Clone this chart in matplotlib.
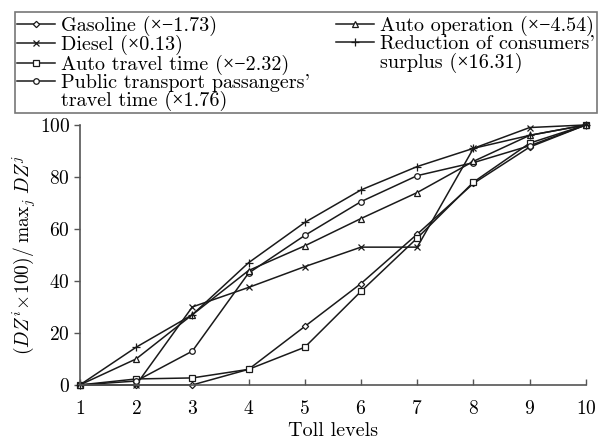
import numpy as np
import matplotlib
matplotlib.use("Agg")
import matplotlib.pyplot as plt
from matplotlib.lines import Line2D
from matplotlib.patches import Rectangle

# --- data ---
toll_levels = [1, 2, 3, 4, 5, 6, 7, 8, 9, 10]

gasoline = [0, 0, 0, 6, 22.5, 39, 58, 77.5, 91.5, 100]
diesel = [0, 0, 30, 37.5, 45.5, 53, 53, 91, 99, 100]
auto_travel = [0, 2.3, 2.7, 6, 14.5, 36, 56.5, 78, 93, 100]
public_transport = [0, 1.5, 13, 43, 57.5, 70.5, 80.5, 85.5, 92, 100]
auto_operation = [0, 10, 27, 44, 53.5, 64, 74, 86, 96, 100]
consumer_surplus = [0, 14.5, 27, 47, 62.5, 75, 84, 91, 96, 100]

labels = [
    "Gasoline (×−1.73)",
    "Diesel (×0.13)",
    "Auto travel time (×−2.32)",
    "Public transport passangers'",
    "travel time (×1.76)",
    "Auto operation (×−4.54)",
    "Reduction of consumers'",
    "surplus (×16.31)",
]

plt.rcParams["font.family"] = ["cmr10", "Liberation Serif", "DejaVu Serif"]
plt.rcParams["mathtext.fontset"] = "cm"
plt.rcParams["axes.formatter.use_mathtext"] = True

fig = plt.figure(figsize=(6.05, 4.44), dpi=100)
ax = fig.add_axes([0.132, 0.133, 0.8364, 0.5856])

lc = "#1a1a1a"
common = dict(color=lc, lw=1.1, mfc="white", mec=lc, mew=0.9, clip_on=False)

series = [
    (gasoline, "D", 3.2),
    (diesel, "x", 5.0),
    (auto_travel, "s", 3.8),
    (public_transport, "o", 4.0),
    (auto_operation, "^", 4.2),
    (consumer_surplus, "+", 6.0),
]
handles = []
for vals, mk, ms in series:
    (ln,) = ax.plot(toll_levels, vals, marker=mk, ms=ms, **common)
    handles.append(ln)

ax.set_xlim(1, 10)
ax.set_ylim(0, 100)
ax.set_xticks(toll_levels)
ax.set_yticks([0, 20, 40, 60, 80, 100])
ax.spines["top"].set_visible(False)
ax.spines["right"].set_visible(False)
for s in ["left", "bottom"]:
    ax.spines[s].set_color("#555555")
    ax.spines[s].set_linewidth(1.2)
ax.tick_params(axis="x", direction="in", length=4, width=1, color="#555555",
               labelsize=14, pad=11)
ax.tick_params(axis="y", direction="out", length=4, width=1, color="#555555",
               labelsize=14, pad=3)

ax.set_xlabel("Toll levels", fontsize=14.5, labelpad=3)
ax.set_ylabel(r"$(DZ^i\!\times\!100)/\;\mathrm{max}_j\;DZ^j$", fontsize=14)
ax.yaxis.set_label_coords(-0.083, 0.5)

# legend: 4 entries left, 2 right, wrapped labels as extra rows
blank = Line2D([], [], color="none")
leg_handles = [handles[0], handles[1], handles[2], handles[3], blank,
               handles[4], handles[5], blank, blank, blank]
leg_labels = labels[:5] + labels[5:] + ["", ""]
leg = fig.legend(leg_handles, leg_labels, ncol=2, loc="upper left",
                 bbox_to_anchor=(15 / 605, 1 - 113 / 444,
                                 (597 - 15) / 605, 99 / 444),
                 mode="expand", borderaxespad=0, fontsize=14.5, frameon=False,
                 handlelength=1.9, handletextpad=0.3, labelspacing=-0.04,
                 borderpad=0.1, columnspacing=1.0, numpoints=1)

# legend frame box
fig.patches.append(Rectangle((15 / 605, 1 - 113 / 444), 582 / 605, 101 / 444,
                             transform=fig.transFigure, fill=False,
                             ec="#777777", lw=1.2))

fig.savefig("out.png", dpi=100)
